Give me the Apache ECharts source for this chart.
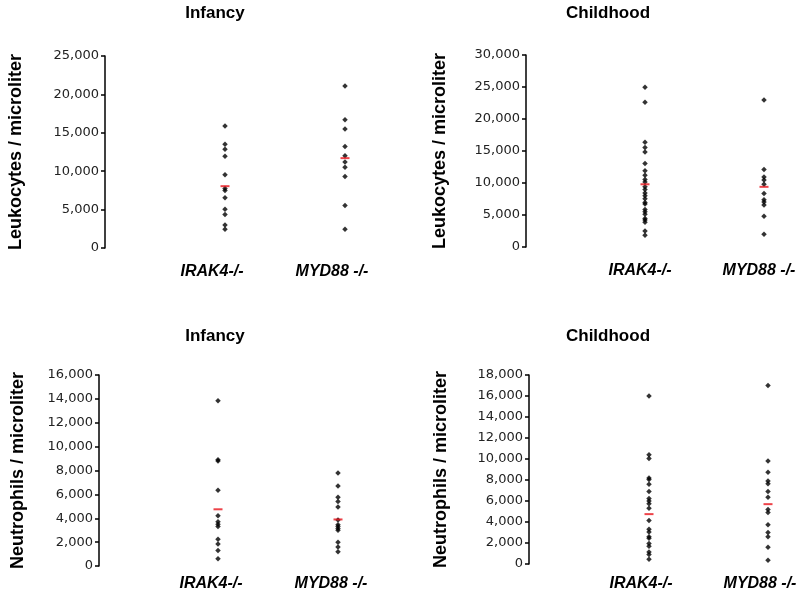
<!DOCTYPE html>
<html>
<head>
<meta charset="utf-8">
<script src="https://cdn.jsdelivr.net/npm/echarts@6/dist/echarts.min.js"></script>
<style>
  html, body { margin: 0; padding: 0; background: #fff; }
  #chart { width: 800px; height: 603px; }
</style>
</head>
<body>
<div id="chart"></div>
<script>
// categories
const groups = ["IRAK4-/-", "MYD88 -/-"];

// Leukocytes, infancy
const leukInfIrak4 = [15900, 13500, 12850, 11950, 9550, 7750, 7500, 6550, 5050, 4350, 3000, 2450];
const leukInfMyd88 = [21100, 16700, 15500, 13200, 12000, 11200, 10500, 9300, 5550, 2450];
const leukInfMean = [8050, 11700];

// Leukocytes, childhood
const leukChIrak4 = [24950, 22600, 16350, 15550, 14850, 13050, 11900, 11200, 10550, 10150, 9400, 9000,
  8450, 8000, 7550, 6950, 6700, 5850, 5500, 5100, 4450, 4200, 3850, 2500, 1850];
const leukChMyd88 = [22950, 12100, 10950, 10450, 9800, 8350, 7400, 7050, 6550, 4800, 2000];
const leukChMean = [9800, 9400];

// Neutrophils, infancy
const neutInfIrak4 = [13850, 8900, 8800, 6350, 4200, 3700, 3500, 3300, 2250, 1850, 1300, 600];
const neutInfMyd88 = [7800, 6700, 5750, 5400, 4950, 3850, 3450, 3300, 3150, 3000, 2000, 1600, 1200];
const neutInfMean = [4750, 3900];

// Neutrophils, childhood
const neutChIrak4 = [16000, 10400, 10050, 8200, 8050, 7600, 6900, 6250, 6000, 5750, 5300, 4150, 3300,
  3050, 2600, 2450, 1950, 1700, 1150, 900, 450];
const neutChMyd88 = [17000, 9800, 8750, 7900, 7650, 6900, 6350, 5200, 4900, 3750, 3000, 2600, 1600, 350];
const neutChMean = [4750, 5700];

const leukTicks = { inf: [0, 25000, 5000], ch: [0, 30000, 5000] };
const neutTicks = { inf: [0, 16000, 2000], ch: [0, 18000, 2000] };

const chart = echarts.init(document.getElementById("chart"));

const panels = [
  { grid: { left: 225, top: 56, width: 120, height: 192 }, off: 120, gap: 80, shift: 26, margin: 16,
    name: "Leukocytes / microliter", ticks: leukTicks.inf, a: leukInfIrak4, b: leukInfMyd88, mean: leukInfMean },
  { grid: { left: 645, top: 55, width: 119, height: 192 }, off: 119, gap: 77, shift: 10, margin: 16,
    name: "Leukocytes / microliter", ticks: leukTicks.ch, a: leukChIrak4, b: leukChMyd88, mean: leukChMean },
  { grid: { left: 218, top: 375, width: 120, height: 191 }, off: 119, gap: 72, shift: 14, margin: 10,
    name: "Neutrophils / microliter", ticks: neutTicks.inf, a: neutInfIrak4, b: neutInfMyd88, mean: neutInfMean },
  { grid: { left: 649, top: 375, width: 119, height: 189 }, off: 120, gap: 79, shift: 16, margin: 12,
    name: "Neutrophils / microliter", ticks: neutTicks.ch, a: neutChIrak4, b: neutChMyd88, mean: neutChMean },
];

const fmt = (v) => String(v).replace(/\B(?=(\d{3})+(?!\d))/g, ",");

const grid = [], xAxis = [], yAxis = [], series = [];
panels.forEach((p, i) => {
  grid.push(p.grid);
  xAxis.push({
    type: "category",
    gridIndex: i,
    data: groups,
    boundaryGap: false,
    axisLine: { show: false },
    axisTick: { show: false },
    splitLine: { show: false },
    axisLabel: {
      interval: 0,
      margin: p.margin,
      padding: [0, p.shift, 0, 0],
      color: "#000",
      fontFamily: "Liberation Sans",
      fontSize: 16,
      fontWeight: "bold",
      fontStyle: "italic",
    },
  });
  yAxis.push({
    type: "value",
    gridIndex: i,
    min: p.ticks[0],
    max: p.ticks[1],
    interval: p.ticks[2],
    offset: p.off,
    name: p.name,
    nameLocation: "middle",
    nameGap: p.gap,
    nameTextStyle: { color: "#000", fontFamily: "Liberation Sans", fontSize: 18, fontWeight: "bold" },
    axisLine: { show: true, lineStyle: { color: "#000", width: 1.5 } },
    axisTick: { show: true, length: 4, lineStyle: { color: "#000", width: 1.5 } },
    splitLine: { show: false },
    axisLabel: { margin: 6, color: "#222", fontFamily: "DejaVu Sans", fontSize: 13, formatter: fmt },
  });
  const pts = p.a.map((v) => [groups[0], v]).concat(p.b.map((v) => [groups[1], v]));
  series.push({
    type: "scatter",
    xAxisIndex: i,
    yAxisIndex: i,
    symbol: "diamond",
    symbolSize: 5.5,
    itemStyle: { color: "#000" },
    data: pts,
  });
  series.push({
    type: "scatter",
    xAxisIndex: i,
    yAxisIndex: i,
    symbol: "rect",
    symbolSize: [9, 2],
    z: 5,
    itemStyle: { color: "#e8141b" },
    data: p.mean.map((v, k) => [groups[k], v]),
  });
});

const titleStyle = { color: "#000", fontFamily: "Liberation Sans", fontSize: 17, fontWeight: "bold" };
const option = {
  backgroundColor: "#fff",
  animation: false,
  title: [
    { text: "Infancy", left: 210, top: 0, textAlign: "center", textStyle: titleStyle },
    { text: "Childhood", left: 603, top: 0, textAlign: "center", textStyle: titleStyle },
    { text: "Infancy", left: 210, top: 323, textAlign: "center", textStyle: titleStyle },
    { text: "Childhood", left: 603, top: 323, textAlign: "center", textStyle: titleStyle },
  ],
  grid,
  xAxis,
  yAxis,
  series,
};
chart.setOption(option);
</script>
</body>
</html>
